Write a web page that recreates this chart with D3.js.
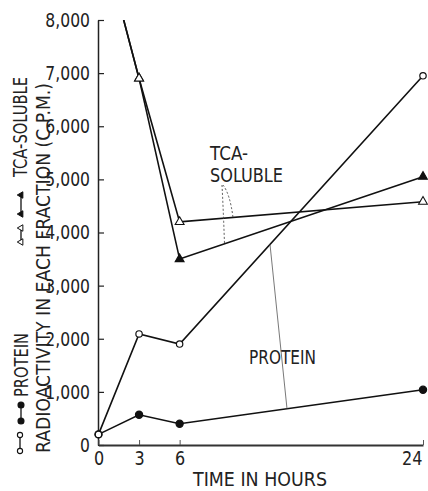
<!DOCTYPE html>
<html>
<head>
<meta charset="utf-8">
<script src="https://cdn.jsdelivr.net/npm/d3@7"></script>
<style>
  html, body { margin: 0; padding: 0; background: #fff; }
  svg { display: block; }
  text { font-family: "DejaVu Sans", "Liberation Sans", sans-serif; font-weight: normal; fill: #222; }
</style>
</head>
<body>
<svg id="chart" width="428" height="491"></svg>
<script>
// ---- data ----
const hours = [0, 3, 6, 24];
const proteinOpen = [200, 2090, 1900, 6950];
const proteinFilled = [200, 570, 400, 1040];
const tcaOpen = [9800, 6900, 4200, 4580];
const tcaFilled = [9800, 6900, 3500, 5050];
const yTicks = [0, 1000, 2000, 3000, 4000, 5000, 6000, 7000, 8000];
const xTicks = [0, 3, 6, 24];
const xTitle = "TIME  IN  HOURS";
const yTitle = "RADIOACTIVITY IN EACH FRACTION (C.P.M.)";
const legendProtein = "PROTEIN";
const legendTca = "TCA-SOLUBLE";

// ---- layout ----
const svg = d3.select("#chart");
const x = d3.scaleLinear().domain([0, 24]).range([98.5, 423]);
const y = d3.scaleLinear().domain([0, 8000]).range([445, 20]);

function squeeze(sel, factor) {
  sel.each(function () {
    const w = this.getComputedTextLength();
    this.setAttribute("textLength", (w * factor).toFixed(1));
    this.setAttribute("lengthAdjust", "spacingAndGlyphs");
  });
}
function fit(sel, len) {
  sel.attr("textLength", len).attr("lengthAdjust", "spacingAndGlyphs");
}

// ---- axes ----
const yAxis = svg.append("g")
  .attr("transform", `translate(${x(0) - 0.5},0)`)
  .call(d3.axisLeft(y).tickValues(yTicks).tickFormat(d3.format(","))
    .tickSizeInner(-6).tickSizeOuter(0).tickPadding(8));
yAxis.select(".domain").attr("stroke", "#222").attr("stroke-width", 1.5);
yAxis.selectAll(".tick line").attr("stroke", "#222").attr("stroke-width", 1.2);
yAxis.selectAll(".tick text").style("font-size", "20px").attr("fill", "#222")
  .call(squeeze, 0.78);

const xAxis = svg.append("g")
  .attr("transform", `translate(0,${y(0)})`)
  .call(d3.axisBottom(x).tickValues(xTicks).tickFormat(d3.format("d"))
    .tickSizeInner(-5).tickSizeOuter(0).tickPadding(6));
xAxis.select(".domain").attr("stroke", "#333").attr("stroke-width", 1.8);
xAxis.selectAll(".tick line").attr("stroke", "#555").attr("stroke-width", 1);
xAxis.selectAll(".tick text").style("font-size", "20px").attr("fill", "#222")
  .attr("dy", "0.71em").call(squeeze, 0.8);
xAxis.selectAll(".tick text").filter(d => d === 24).attr("text-anchor", "end").attr("dx", -1);

svg.append("text").attr("x", 193).attr("y", 486)
  .style("font-size", "20px").text(xTitle).call(fit, 134);

// ---- y titles (rotated) ----
svg.append("text")
  .attr("transform", "translate(50,453) rotate(-90)")
  .style("font-size", "20px").text(yTitle).call(fit, 370);

svg.append("text")
  .attr("transform", "translate(28,397) rotate(-90)")
  .style("font-size", "20px").text(legendProtein).call(fit, 64);
svg.append("text")
  .attr("transform", "translate(27,177) rotate(-90)")
  .style("font-size", "20px").text(legendTca).call(fit, 100);

// legend symbols
function legendSymbol(cx, y1, y2, kind) {
  const g = svg.append("g");
  g.append("line").attr("x1", cx).attr("x2", cx).attr("y1", y1).attr("y2", y2)
    .attr("stroke", "#111").attr("stroke-width", 1.3);
  [y1, y2].forEach(yy => {
    if (kind === "circleOpen" || kind === "circleFilled") {
      g.append("circle").attr("cx", cx).attr("cy", yy)
        .attr("r", kind === "circleOpen" ? 2.6 : 3)
        .attr("fill", kind === "circleOpen" ? "#fff" : "#111")
        .attr("stroke", "#111").attr("stroke-width", 1.1);
    } else {
      g.append("path").attr("d", d3.symbol(d3.symbolTriangle, 18)())
        .attr("transform", `translate(${cx},${yy}) rotate(-90)`)
        .attr("fill", kind === "triOpen" ? "#fff" : "#111")
        .attr("stroke", "#111").attr("stroke-width", 1);
    }
  });
}
legendSymbol(21, 405, 421, "circleFilled");
legendSymbol(20, 435, 451, "circleOpen");
legendSymbol(21, 195, 214, "triFilled");
legendSymbol(21, 228, 242, "triOpen");

// ---- data lines ----
svg.append("clipPath").attr("id", "plotClip")
  .append("rect").attr("x", 90).attr("y", y(8000)).attr("width", 340).attr("height", y(0) - y(8000) + 8);

const plot = svg.append("g").attr("clip-path", "url(#plotClip)");
const line = d3.line().x((d, i) => x(hours[i])).y(d => y(d));

const series = [
  { vals: tcaFilled, marker: "triFilled" },
  { vals: tcaOpen, marker: "triOpen" },
  { vals: proteinFilled, marker: "circleFilled" },
  { vals: proteinOpen, marker: "circleOpen" }
];
series.forEach(s => {
  plot.append("path").datum(s.vals).attr("d", line)
    .attr("fill", "none").attr("stroke", "#111").attr("stroke-width", 1.6);
});
series.forEach(s => {
  s.vals.forEach((v, i) => {
    if (v > 8000) return;
    const cx = x(hours[i]), cy = y(v);
    if (s.marker.startsWith("circle")) {
      plot.append("circle").attr("cx", cx).attr("cy", cy)
        .attr("r", s.marker === "circleOpen" ? 3.2 : 3.6)
        .attr("fill", s.marker === "circleOpen" ? "#fff" : "#111")
        .attr("stroke", "#111").attr("stroke-width", 1.2);
    } else {
      plot.append("path").attr("d", d3.symbol(d3.symbolTriangle, 34)())
        .attr("transform", `translate(${cx},${cy})`)
        .attr("fill", s.marker === "triOpen" ? "#fff" : "#111")
        .attr("stroke", "#111").attr("stroke-width", 1.1);
    }
  });
});

// ---- annotations ----
function valueAt(vals, t) {
  return d3.scaleLinear().domain(hours).range(vals)(t);
}
svg.append("text").attr("x", 210).attr("y", 160).style("font-size", "20px")
  .text("TCA-").call(fit, 38);
svg.append("text").attr("x", 210).attr("y", 182).style("font-size", "20px")
  .text("SOLUBLE").call(fit, 73);
svg.append("text").attr("x", 249).attr("y", 364).style("font-size", "20px")
  .text("PROTEIN").call(fit, 67);

// dotted leaders from TCA-SOLUBLE
const tA = x.invert(224.5), tB = x.invert(233);
svg.append("path")
  .attr("d", `M222,185 Q223.5,214 ${x(tA)},${y(valueAt(tcaFilled, tA))}`)
  .attr("fill", "none").attr("stroke", "#444").attr("stroke-width", 0.9).attr("stroke-dasharray", "2,2");
svg.append("path")
  .attr("d", `M223,185 Q230,194 ${x(tB)},${y(valueAt(tcaOpen, tB))}`)
  .attr("fill", "none").attr("stroke", "#444").attr("stroke-width", 0.9).attr("stroke-dasharray", "2,2");

// PROTEIN leader
const tP1 = x.invert(270), tP2 = x.invert(287);
svg.append("line")
  .attr("x1", x(tP1)).attr("y1", y(valueAt(proteinOpen, tP1)))
  .attr("x2", x(tP2)).attr("y2", y(valueAt(proteinFilled, tP2)))
  .attr("stroke", "#555").attr("stroke-width", 0.8);
</script>
</body>
</html>
